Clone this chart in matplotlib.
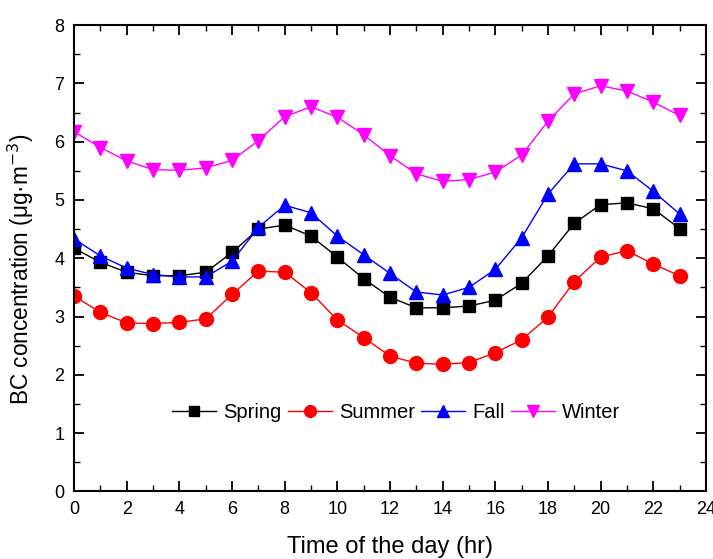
import matplotlib
matplotlib.use("Agg")
import matplotlib.pyplot as plt
from matplotlib.ticker import MultipleLocator

plt.rcParams['font.family'] = ['Liberation Sans', 'DejaVu Sans']

hours = list(range(24))
spring = [4.17, 3.93, 3.76, 3.70, 3.70, 3.76, 4.10, 4.50, 4.57, 4.38, 4.02, 3.65,
          3.33, 3.15, 3.15, 3.18, 3.28, 3.57, 4.04, 4.60, 4.92, 4.95, 4.85, 4.51]
summer = [3.35, 3.07, 2.89, 2.88, 2.90, 2.96, 3.38, 3.78, 3.76, 3.41, 2.94, 2.64,
          2.32, 2.20, 2.18, 2.21, 2.38, 2.60, 2.99, 3.60, 4.02, 4.13, 3.90, 3.70]
fall = [4.33, 4.04, 3.83, 3.72, 3.68, 3.68, 3.95, 4.53, 4.91, 4.78, 4.38, 4.06,
        3.74, 3.42, 3.37, 3.50, 3.81, 4.35, 5.10, 5.62, 5.62, 5.50, 5.15, 4.76]
winter = [6.17, 5.90, 5.67, 5.52, 5.51, 5.55, 5.68, 6.02, 6.43, 6.60, 6.42, 6.12,
          5.76, 5.45, 5.32, 5.35, 5.48, 5.77, 6.35, 6.82, 6.96, 6.87, 6.68, 6.45]

fig = plt.figure(figsize=(7.13, 5.59), dpi=100)
ax = fig.add_axes([0.104, 0.121, 0.886, 0.834])

ax.plot(hours, spring, color='black', marker='s', markersize=8.5, lw=1, label='Spring')
ax.plot(hours, summer, color='red', marker='o', markersize=10, lw=1, label='Summer')
ax.plot(hours, fall, color='blue', marker='^', markersize=10.5, lw=1, label='Fall')
ax.plot(hours, winter, color='magenta', marker='v', markersize=10.5, lw=1, label='Winter')

ax.set_xlim(0, 24)
ax.set_ylim(0, 8)
ax.xaxis.set_major_locator(MultipleLocator(2))
ax.xaxis.set_minor_locator(MultipleLocator(1))
ax.yaxis.set_major_locator(MultipleLocator(1))
ax.yaxis.set_minor_locator(MultipleLocator(0.5))
ax.tick_params(which='major', direction='in', length=7, width=1.3, labelsize=13,
               top=True, right=True, pad=7)
ax.tick_params(which='minor', direction='in', length=4, width=1, top=True, right=True)
for s in ax.spines.values():
    s.set_linewidth(1.5)

ax.set_xlabel('Time of the day (hr)', fontsize=17, labelpad=13)
ax.set_ylabel('BC concentration (μg·m$^{-3}$)', fontsize=16.3)
ax.yaxis.set_label_coords(-0.061, 0.476)

ax.legend(loc='center', bbox_to_anchor=(0.51, 0.17), ncol=4, frameon=False,
          fontsize=14.5, handlelength=2.2, handletextpad=0.35, columnspacing=0.3,
          markerscale=0.85)

fig.savefig('out.png', dpi=100)
